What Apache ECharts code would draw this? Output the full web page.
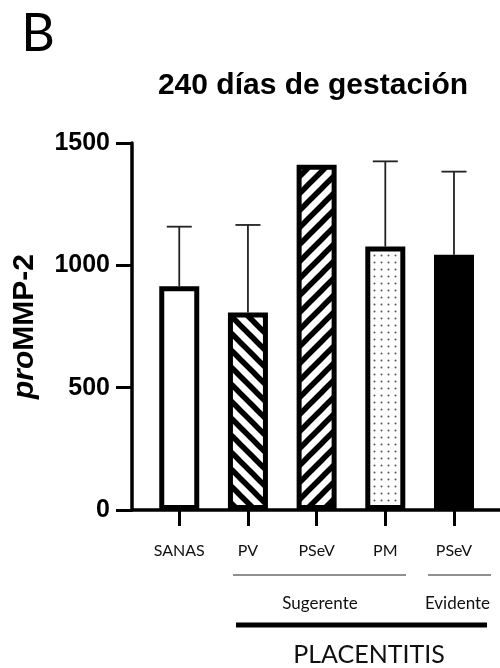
<!DOCTYPE html>
<html>
<head>
<meta charset="utf-8">
<script src="https://cdn.jsdelivr.net/npm/echarts@6/dist/echarts.min.js"></script>
<style>
html,body{margin:0;padding:0;background:#fff;}
#c{width:500px;height:668px;}
</style>
</head>
<body>
<div id="c"></div>
<script>
// ---- data ----
var categories = ['SANAS', 'PV', 'PSeV', 'PM', 'PSeV'];
var means = [915, 807, 1411, 1077, 1043];
var sdUpper = [243, 358, null, 348, 340];
var yTicks = [0, 500, 1000, 1500];
var fills = ['white', 'back', 'fwd', 'dots', 'black'];

// ---- patterns ----
function stripe(dir) {
  var T = 17, c = document.createElement('canvas');
  c.width = T; c.height = T;
  var g = c.getContext('2d');
  g.fillStyle = '#fff'; g.fillRect(0, 0, T, T);
  g.strokeStyle = '#000'; g.lineWidth = 5.5; g.lineCap = 'square';
  for (var k = -T; k <= T; k += T) {
    g.beginPath();
    if (dir === 'back') { g.moveTo(k, 0); g.lineTo(k + T, T); }
    else { g.moveTo(k, T); g.lineTo(k + T, 0); }
    g.stroke();
  }
  return {image: c, repeat: 'repeat'};
}
function dots() {
  var T = 7, c = document.createElement('canvas');
  c.width = T; c.height = T;
  var g = c.getContext('2d');
  g.fillStyle = '#fff'; g.fillRect(0, 0, T, T);
  g.fillStyle = '#555';
  g.beginPath(); g.arc(3.5, 3.5, 1.0, 0, Math.PI * 2); g.fill();
  return {image: c, repeat: 'repeat'};
}
function fillFor(f) {
  if (f === 'white') return '#fff';
  if (f === 'black') return '#000';
  if (f === 'dots') return dots();
  return stripe(f);
}

var barData = means.map(function (v, i) {
  return {value: [i + 1, v], itemStyle: {color: fillFor(fills[i])}};
});
var errData = [];
means.forEach(function (v, i) {
  if (sdUpper[i] != null) errData.push([i + 1, v, v + sdUpper[i]]);
});
var xPos = categories.map(function (c, i) { return i + 1; });

var chart = echarts.init(document.getElementById('c'), null, {renderer: 'canvas'});
var option = {
  backgroundColor: '#fff',
  animation: false,
  title: {
    text: '240 días de gestación',
    left: 313, top: 71, textAlign: 'center', padding: 0,
    textStyle: {fontFamily: 'Liberation Sans', fontWeight: 'bold', fontSize: 30, color: '#000'}
  },
  grid: {left: 132, right: 0, top: 143, bottom: 158, containLabel: false},
  xAxis: {
    type: 'value', min: 0.312, max: 5.67,
    axisLine: {show: true, onZero: false, lineStyle: {color: '#000', width: 3.5}},
    axisTick: {show: true, length: 16, customValues: xPos, lineStyle: {color: '#000', width: 3}},
    axisLabel: {
      customValues: xPos, margin: 32,
      formatter: function (v) { return categories[Math.round(v) - 1]; },
      fontFamily: 'Lato', fontSize: 16, color: '#111', lineHeight: 18
    },
    splitLine: {show: false}
  },
  yAxis: {
    type: 'value', min: 0, max: 1500, interval: 500,
    axisLine: {show: true, lineStyle: {color: '#000', width: 3.5}},
    axisTick: {show: true, length: 16, lineStyle: {color: '#000', width: 3}},
    axisLabel: {
      margin: 22, fontFamily: 'Liberation Sans', fontWeight: 'bold', fontSize: 25, color: '#000',
      customValues: yTicks,
      formatter: function (v) { return String(v); }
    },
    splitLine: {show: false},
    name: '{i|pro}{b|MMP-2}',
    nameLocation: 'middle', nameRotate: 90, nameGap: 92,
    nameTextStyle: {
      rich: {
        i: {fontFamily: 'Liberation Sans', fontWeight: 'bold', fontStyle: 'italic', fontSize: 30, color: '#000'},
        b: {fontFamily: 'Liberation Sans', fontWeight: 'bold', fontSize: 30, color: '#000'}
      }
    }
  },
  series: [
    {
      type: 'bar', barWidth: 40, data: barData, z: 3,
      itemStyle: {borderColor: '#000', borderWidth: 5}
    },
    {
      type: 'custom', z: 2, data: errData,
      renderItem: function (params, api) {
        var x = api.value(0);
        var p0 = api.coord([x, api.value(1)]);
        var p1 = api.coord([x, api.value(2)]);
        var st = {stroke: '#222', lineWidth: 1.8};
        return {type: 'group', children: [
          {type: 'line', shape: {x1: p0[0], y1: p0[1], x2: p1[0], y2: p1[1]}, style: st},
          {type: 'line', shape: {x1: p1[0] - 12.5, y1: p1[1], x2: p1[0] + 12.5, y2: p1[1]}, style: st}
        ]};
      }
    }
  ],
  graphic: [
    {type: 'text', x: 38, y: 34, style: {text: 'B', fontFamily: 'Lato', fontSize: 52, fill: '#000', align: 'center', verticalAlign: 'middle'}},
    {type: 'line', shape: {x1: 233, y1: 575, x2: 406, y2: 575}, style: {stroke: '#222', lineWidth: 1.2}},
    {type: 'line', shape: {x1: 428, y1: 575, x2: 491, y2: 575}, style: {stroke: '#222', lineWidth: 1.2}},
    {type: 'text', x: 320, y: 604, style: {text: 'Sugerente', fontFamily: 'Lato', fontSize: 17, fill: '#111', align: 'center', verticalAlign: 'middle'}},
    {type: 'text', x: 457.5, y: 604, style: {text: 'Evidente', fontFamily: 'Lato', fontSize: 17, fill: '#111', align: 'center', verticalAlign: 'middle'}},
    {type: 'line', shape: {x1: 236, y1: 625, x2: 487, y2: 625}, style: {stroke: '#000', lineWidth: 5}},
    {type: 'text', x: 369, y: 655, style: {text: 'PLACENTITIS', fontFamily: 'Lato', fontSize: 25, fill: '#111', align: 'center', verticalAlign: 'middle'}}
  ]
};
chart.setOption(option);
</script>
</body>
</html>
